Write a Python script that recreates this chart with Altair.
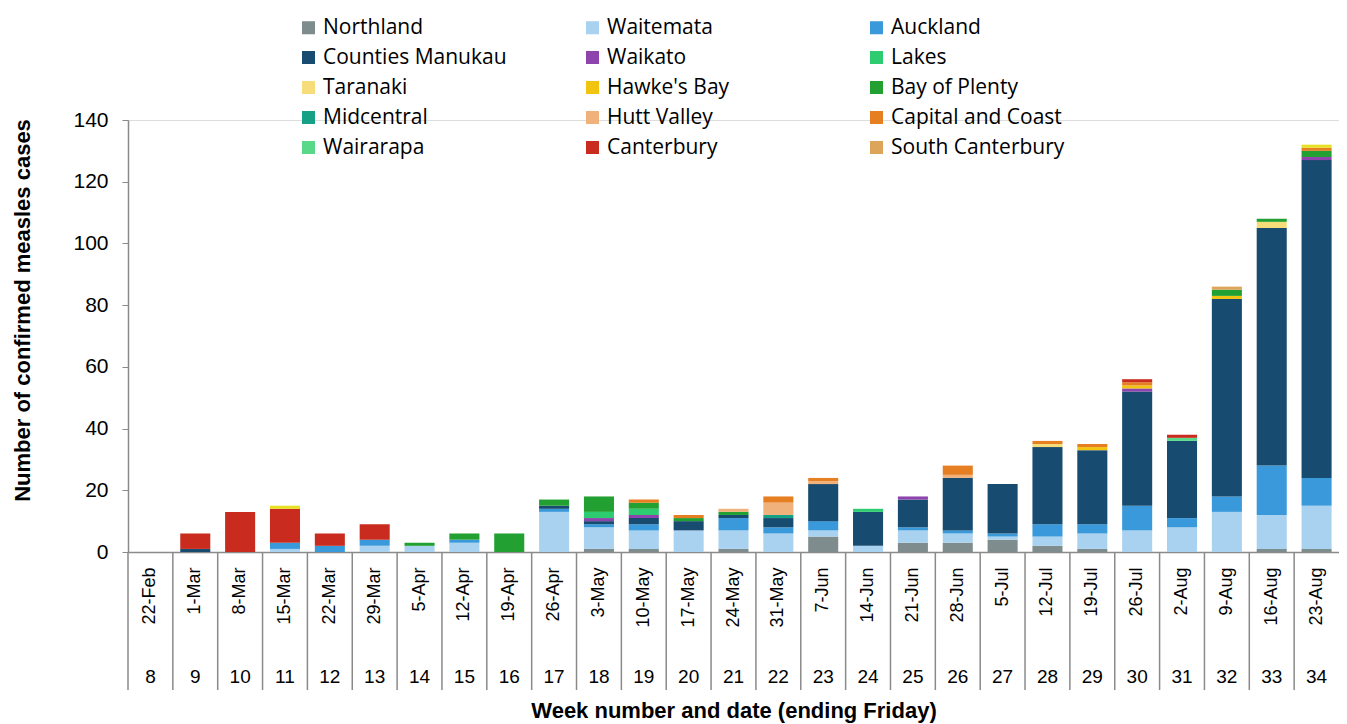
import altair as alt
import pandas as pd

weeks = [str(w) for w in range(8, 35)]
dates = ["22-Feb", "1-Mar", "8-Mar", "15-Mar", "22-Mar", "29-Mar", "5-Apr", "12-Apr",
         "19-Apr", "26-Apr", "3-May", "10-May", "17-May", "24-May", "31-May", "7-Jun",
         "14-Jun", "21-Jun", "28-Jun", "5-Jul", "12-Jul", "19-Jul", "26-Jul", "2-Aug",
         "9-Aug", "16-Aug", "23-Aug"]

series_names = ["Northland", "Waitemata", "Auckland", "Counties Manukau", "Waikato", "Lakes",
                "Taranaki", "Hawke's Bay", "Bay of Plenty", "Midcentral", "Hutt Valley",
                "Capital and Coast", "Wairarapa", "Canterbury", "South Canterbury", "Other"]
# legend fills column by column: list entries so rows read like the reference
legend_names = ["Northland", "Counties Manukau", "Taranaki", "Midcentral", "Wairarapa",
                "Waitemata", "Waikato", "Hawke's Bay", "Hutt Valley", "Canterbury",
                "Auckland", "Lakes", "Bay of Plenty", "Capital and Coast", "South Canterbury"]
colors = ["#7f8c8d", "#a9d2f0", "#3a99da", "#174b6f", "#8e44ad", "#2ecc71",
          "#f7dc7a", "#f1c40f", "#22a032", "#16a085", "#f0b27a",
          "#e67e22", "#5ad88a", "#c92c1f", "#dda55a", "#e8e022"]

#            8  9 10 11 12 13 14 15 16 17 18 19 20 21 22 23 24 25 26 27 28 29 30 31 32 33  34
northland = [0, 0, 0, 0, 0, 0, 0, 0, 0, 0, 1, 1, 0, 1, 0, 5, 0, 3, 3, 4, 2, 1, 0, 0, 0, 1, 1]
waitemata = [0, 0, 0, 1, 0, 2, 2, 3, 0, 13, 7, 6, 7, 6, 6, 2, 2, 4, 3, 1, 3, 5, 7, 8, 13, 11, 14]
auckland  = [0, 0, 0, 2, 2, 2, 0, 1, 0, 1, 1, 2, 0, 4, 2, 3, 0, 1, 1, 1, 4, 3, 8, 3, 5, 16, 9]
counties  = [0, 1, 0, 0, 0, 0, 0, 0, 0, 1, 1, 2, 3, 1, 3, 12, 11, 9, 17, 16, 25, 24, 37, 25, 64, 77, 103]
waikato   = [0, 0, 0, 0, 0, 0, 0, 0, 0, 0, 1, 1, 0, 0, 0, 0, 0, 1, 0, 0, 0, 0, 1, 0, 0, 0, 1]
lakes     = [0, 0, 0, 0, 0, 0, 0, 0, 0, 0, 2, 2, 0, 0, 0, 0, 1, 0, 0, 0, 0, 0, 0, 0, 0, 0, 0]
taranaki  = [0, 0, 0, 0, 0, 0, 0, 0, 0, 0, 0, 0, 0, 0, 0, 0, 0, 0, 0, 0, 1, 0, 0, 0, 0, 2, 0]
hawkes    = [0, 0, 0, 0, 0, 0, 0, 0, 0, 0, 0, 0, 0, 0, 0, 0, 0, 0, 0, 0, 0, 1, 1, 0, 1, 0, 0]
plenty    = [0, 0, 0, 0, 0, 0, 1, 2, 6, 2, 5, 2, 1, 1, 0, 0, 0, 0, 0, 0, 0, 0, 0, 0, 2, 1, 2]
midcent   = [0, 0, 0, 0, 0, 0, 0, 0, 0, 0, 0, 0, 0, 0, 1, 0, 0, 0, 0, 0, 0, 0, 0, 0, 0, 0, 0]
hutt      = [0, 0, 0, 0, 0, 0, 0, 0, 0, 0, 0, 0, 0, 1, 4, 1, 0, 0, 1, 0, 0, 0, 0, 0, 0, 0, 0]
capital   = [0, 0, 0, 0, 0, 0, 0, 0, 0, 0, 0, 1, 1, 0, 2, 1, 0, 0, 3, 0, 1, 1, 1, 0, 0, 0, 1]
wairarapa = [0, 0, 0, 0, 0, 0, 0, 0, 0, 0, 0, 0, 0, 0, 0, 0, 0, 0, 0, 0, 0, 0, 0, 1, 0, 0, 0]
canterb   = [0, 5, 13, 11, 4, 5, 0, 0, 0, 0, 0, 0, 0, 0, 0, 0, 0, 0, 0, 0, 0, 0, 1, 1, 0, 0, 0]
southcant = [0, 0, 0, 0, 0, 0, 0, 0, 0, 0, 0, 0, 0, 0, 0, 0, 0, 0, 0, 0, 0, 0, 0, 0, 1, 0, 0]
other     = [0, 0, 0, 1, 0, 0, 0, 0, 0, 0, 0, 0, 0, 0, 0, 0, 0, 0, 0, 0, 0, 0, 0, 0, 0, 0, 1]

series_values = [northland, waitemata, auckland, counties, waikato, lakes, taranaki, hawkes,
                 plenty, midcent, hutt, capital, wairarapa, canterb, southcant, other]

rows = []
for si, (name, vals) in enumerate(zip(series_names, series_values)):
    for wi, v in enumerate(vals):
        if v:
            rows.append({"date": dates[wi], "week": weeks[wi], "dhb": name, "cases": v, "ord": si})
df = pd.DataFrame(rows)
axis_df = pd.DataFrame({"date": dates, "week": weeks})

H = 432
W = 1211
AX = "#8a8a8a"
FONT = "Liberation Sans"

xscale = alt.Scale(domain=dates, paddingInner=0, paddingOuter=0)

bars = alt.Chart(df).mark_bar(width=alt.RelativeBandSize(0.67)).encode(
    x=alt.X("date:N", scale=xscale, sort=dates,
            axis=alt.Axis(title="Week number and date (ending Friday)",
                          labelAngle=270, labelAlign="right", labelBaseline="middle",
                          labelFontSize=18, labelFont=FONT, labelColor="#000",
                          labelPadding=15, ticks=False, domainColor=AX, domainWidth=1.5,
                          titleFont=FONT, titleFontSize=22, titleFontWeight="bold",
                          titleColor="#000", titleY=158, titleBaseline="middle")),
    y=alt.Y("sum(cases):Q", scale=alt.Scale(domain=[0, 140], nice=False),
            axis=alt.Axis(title="Number of confirmed measles cases",
                          values=[0, 20, 40, 60, 80, 100, 120, 140], grid=False,
                          labelFontSize=21, labelFont=FONT, labelColor="#000",
                          labelPadding=14, tickSize=6, tickColor=AX, domainColor=AX,
                          domainWidth=1.5, titleFont=FONT, titleFontSize=22,
                          titleFontWeight="bold", titleColor="#000",
                          titleX=-106, titleY=190, titleAlign="center",
                          titleBaseline="middle", titleAngle=270)),
    color=alt.Color("dhb:N", scale=alt.Scale(domain=series_names, range=colors),
                    legend=alt.Legend(orient="none", legendX=170, legendY=-103,
                                      columns=3, title=None, values=legend_names,
                                      symbolType="square", symbolSize=170,
                                      symbolStrokeWidth=0, labelFontSize=21,
                                      labelFont="Open Sans", labelColor="#000",
                                      labelOffset=4, labelLimit=400, rowPadding=8,
                                      columnPadding=75, gridAlign="all")),
    order=alt.Order("ord:Q", sort="ascending"),
)

seps = alt.Chart(axis_df).mark_rule(color=AX, strokeWidth=1.5).encode(
    x=alt.X("date:N", scale=xscale, sort=dates, bandPosition=0),
    y=alt.value(H),
    y2=alt.value(H + 138),
)

wk = alt.Chart(axis_df).mark_text(fontSize=19, font=FONT, color="#000").encode(
    x=alt.X("date:N", scale=xscale, sort=dates),
    y=alt.value(H + 125),
    text="week:N",
)

chart = alt.layer(bars, seps, wk).properties(
    width=W, height=H,
    autosize=alt.AutoSizeParams(type="none"),
    padding={"left": 120, "top": 112, "right": 0, "bottom": 180},
).configure_view(stroke=None).configure(background="white")

chart.save("out.html", embed_options={"renderer": "svg", "actions": False})
